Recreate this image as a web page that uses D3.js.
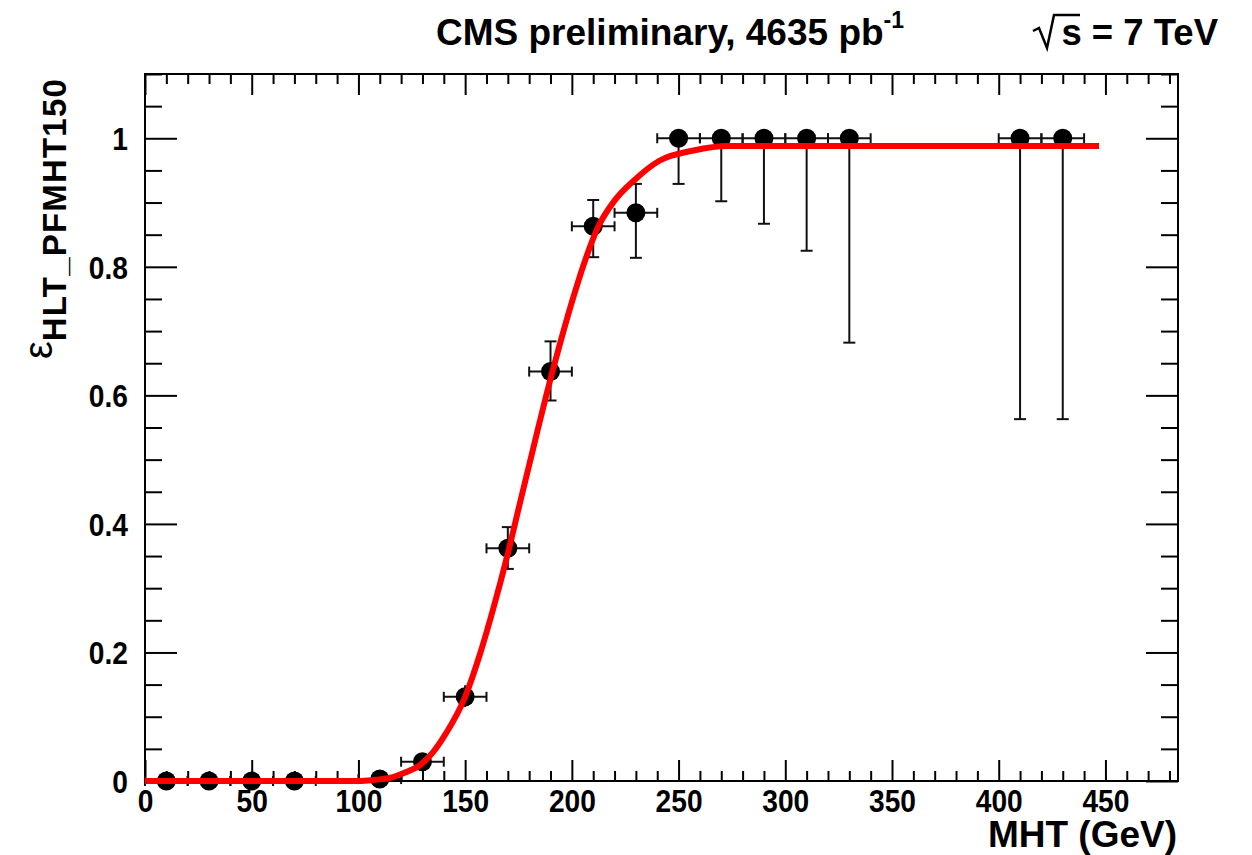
<!DOCTYPE html>
<html>
<head>
<meta charset="utf-8">
<script src="https://cdn.jsdelivr.net/npm/d3@7"></script>
<style>
  body { margin: 0; background: #fff; }
  text { font-family: "Liberation Sans", Arial, Helvetica, sans-serif; }
  .axis path, .axis line { stroke: #000; stroke-width: 2; }
  .axis text { font-size: 32px; font-weight: bold; fill: #000; }
</style>
</head>
<body>
<div id="chart"></div>
<script>
// bin centres (GeV), efficiency, asymmetric errors
const binCenters = [10, 30, 50, 70, 110, 130, 150, 170, 190, 210, 230, 250, 270, 290, 310, 330, 410, 430];
const efficiency = [0, 0, 0, 0, 0.003, 0.030, 0.131, 0.362, 0.637, 0.863, 0.884, 1, 1, 1, 1, 1, 1, 1];
const errLow     = [0, 0, 0, 0, 0.003, 0.012, 0.016, 0.032, 0.045, 0.048, 0.070, 0.071, 0.098, 0.133, 0.175, 0.318, 0.437, 0.437];
const errHigh    = [0.005, 0.005, 0.005, 0.005, 0.006, 0.012, 0.018, 0.033, 0.047, 0.041, 0.045, 0, 0, 0, 0, 0, 0, 0];
const binHalfWidth = [10, 10, 10, 10, 10, 10, 10, 10, 10, 10, 10, 10, 10, 10, 10, 10, 10, 10];

// fitted turn-on curve
const fitX = [0, 100, 108, 115, 121, 129, 135, 141, 150, 157, 163, 170, 176, 182, 188, 194, 200, 206, 212, 220, 229, 241, 257, 273, 300, 447];
const fitY = [0, 0, 0.002, 0.005, 0.012, 0.025, 0.045, 0.074, 0.131, 0.198, 0.266, 0.354, 0.437, 0.519, 0.600, 0.675, 0.745, 0.808, 0.860, 0.903, 0.934, 0.965, 0.981, 0.988, 0.988, 0.988];

const xMajorTicks = [0, 50, 100, 150, 200, 250, 300, 350, 400, 450];
const yMajorTicks = [0, 0.2, 0.4, 0.6, 0.8, 1];

const titleText = "CMS preliminary, 4635 pb";
const energyText = "s = 7 TeV";
const xTitle = "MHT (GeV)";
const yTitleMain = "ε";
const yTitleSub = "HLT_PFMHT150";

const width = 1252, height = 855;
const frame = { left: 145, top: 74, right: 1178, bottom: 781 };
const labelSquash = 0.88;

const svg = d3.select("#chart").append("svg")
    .attr("width", width)
    .attr("height", height);

const x = d3.scaleLinear().domain([0, 484]).range([frame.left, frame.right]);
const y = d3.scaleLinear().domain([0, 1.1]).range([frame.bottom, frame.top]);

const xMinor = d3.range(0, 481, 10).filter(v => v % 50 !== 0);
const yMinor = d3.range(0, 1.1001, 0.05).map(v => +v.toFixed(2)).filter(v => Math.round(v * 100) % 20 !== 0);

// frame
svg.append("rect")
    .attr("x", frame.left).attr("y", frame.top)
    .attr("width", frame.right - frame.left).attr("height", frame.bottom - frame.top)
    .attr("fill", "none").attr("stroke", "#000").attr("stroke-width", 2);

// axes: ticks point inward, labels on bottom and left only
function drawAxis(axisFn, scale, ticks, size, transform, labels) {
  const g = svg.append("g").attr("class", "axis").attr("transform", transform)
      .call(axisFn(scale).tickValues(ticks).tickSize(-size).tickSizeOuter(0)
        .tickFormat(labels ? d3.format("~g") : ""));
  g.select(".domain").remove();
  g.attr("font-size", null);
  return g;
}

drawAxis(d3.axisBottom, x, xMajorTicks, 21, `translate(0,${frame.bottom})`, true)
  .selectAll("text")
    .attr("y", 31).attr("dy", 0)
    .attr("transform", `scale(${labelSquash},1)`);
drawAxis(d3.axisBottom, x, xMinor, 10, `translate(0,${frame.bottom})`, false);
drawAxis(d3.axisTop, x, xMajorTicks, 21, `translate(0,${frame.top})`, false);
drawAxis(d3.axisTop, x, xMinor, 10, `translate(0,${frame.top})`, false);

drawAxis(d3.axisLeft, y, yMajorTicks, 32, `translate(${frame.left},0)`, true)
  .selectAll("text")
    .attr("x", -17 / labelSquash).attr("dy", "0.36em")
    .attr("transform", `scale(${labelSquash},1)`);
drawAxis(d3.axisLeft, y, yMinor, 17, `translate(${frame.left},0)`, false);
drawAxis(d3.axisRight, y, yMajorTicks, 32, `translate(${frame.right},0)`, false);
drawAxis(d3.axisRight, y, yMinor, 17, `translate(${frame.right},0)`, false);

// data points with error bars
const points = binCenters.map((c, i) => ({
  x: c, y: efficiency[i], lo: errLow[i], hi: errHigh[i], hw: binHalfWidth[i]
}));

const errG = svg.append("g").attr("stroke", "#111").attr("stroke-width", 2);
const cap = 5;

points.forEach(d => {
  // horizontal bar with end caps
  errG.append("line")
      .attr("x1", x(d.x - d.hw)).attr("x2", x(d.x + d.hw))
      .attr("y1", y(d.y)).attr("y2", y(d.y));
  [d.x - d.hw, d.x + d.hw].forEach(e => {
    errG.append("line")
        .attr("x1", x(e)).attr("x2", x(e))
        .attr("y1", y(d.y) - cap).attr("y2", y(d.y) + cap);
  });
  // vertical bar with end caps
  if (d.lo + d.hi > 0) {
    errG.append("line")
        .attr("x1", x(d.x)).attr("x2", x(d.x))
        .attr("y1", y(d.y - d.lo)).attr("y2", y(d.y + d.hi));
    if (d.lo > 0.02) {
      errG.append("line")
          .attr("x1", x(d.x) - cap - 1).attr("x2", x(d.x) + cap + 1)
          .attr("y1", y(d.y - d.lo)).attr("y2", y(d.y - d.lo));
    }
    if (d.hi > 0.02) {
      errG.append("line")
          .attr("x1", x(d.x) - cap - 1).attr("x2", x(d.x) + cap + 1)
          .attr("y1", y(d.y + d.hi)).attr("y2", y(d.y + d.hi));
    }
  }
});

svg.append("g").selectAll("circle")
    .data(points)
  .join("circle")
    .attr("cx", d => x(d.x))
    .attr("cy", d => y(d.y))
    .attr("r", 9.5)
    .attr("fill", "#000");

// fit curve
const fitData = fitX.map((v, i) => [v, fitY[i]]);
svg.append("path")
    .datum(fitData)
    .attr("fill", "none")
    .attr("stroke", "#ff0000")
    .attr("stroke-width", 6)
    .attr("d", d3.line().x(d => x(d[0])).y(d => y(d[1])).curve(d3.curveMonotoneX));

// title
const title = svg.append("text")
    .attr("x", 436).attr("y", 45)
    .attr("font-size", 37).attr("font-weight", "bold");
title.append("tspan").text(titleText);
title.append("tspan").attr("font-size", 23).attr("dy", -17).text("-1");

// sqrt(s) label
svg.append("path")
    .attr("d", "M1033,31 L1039,28 L1047,48 L1054,15 L1080,15")
    .attr("fill", "none").attr("stroke", "#000").attr("stroke-width", 2.5);
svg.append("text")
    .attr("x", 1218).attr("y", 45)
    .attr("text-anchor", "end")
    .attr("font-size", 36.5).attr("font-weight", "bold")
    .text(energyText);

// axis titles
svg.append("text")
    .attr("x", 1177).attr("y", 847)
    .attr("text-anchor", "end")
    .attr("font-size", 37).attr("font-weight", "bold")
    .text(xTitle);

const yTitle = svg.append("text")
    .attr("transform", "translate(66,78) rotate(-90)")
    .attr("text-anchor", "end");
yTitle.append("tspan").attr("font-size", 40).attr("dy", -14).text(yTitleMain);
yTitle.append("tspan").attr("font-size", 33).attr("font-weight", "bold")
    .attr("letter-spacing", 1.2).attr("dy", 14).text(yTitleSub);
</script>
</body>
</html>
